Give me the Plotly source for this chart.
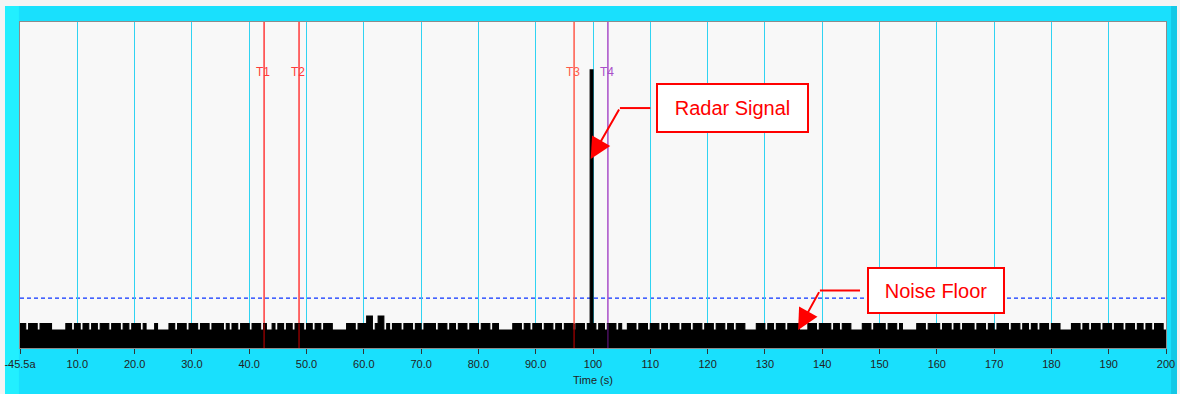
import plotly.graph_objects as go

# ---------------- data ----------------
# noise floor, one char per 0.5 s bin (0 .. 199.5 s)
# '0' = low floor, '1' = regular noise spike, '2' = taller spike, 'R' = radar pulse
noise_chunks = [
    "1101110111" "1000001101" "1011011011" "1011101101" "1101000100",   # 0-25
    "0011011101" "1101110111" "1010110111" "0111010010" "1101101110",   # 25-50
    "1101101110" "0000111011" "1220122010" "1110111011" "0111101110",   # 50-75
    "1101110111" "0111011000" "0011101101" "1101110110" "111011101R",   # 75-100
    "1011011101" "0011101110" "1110110111" "0111011101" "1101110110",   # 100-125
    "1110000111" "0110111011" "1100011101" "1110110111" "0000111011",   # 125-150
    "1101110100" "0001110111" "1011101101" "1110111011" "0111101110",   # 150-175
    "1101101110" "1110000111" "0110111011" "1011101110" "1101101110",   # 175-200
]
noise_code = "".join(noise_chunks)
level_map = {"0": 5.5, "1": 7.5, "2": 9.8, "R": 85.3}
bin_width = 0.5

noise_floor_level = 15.3

marker_names = ["T1", "T2", "T3", "T4"]
marker_times = [42.6, 48.7, 96.7, 102.6]
marker_colors = ["#ff3a3a", "#ff3a3a", "#ff5a4a", "#a94ec8"]
marker_dark = ["#8a0000", "#8a0000", "#8a0000", "#4a1060"]

tick_vals = list(range(0, 201, 10))
tick_text = ["-45.5a", "10.0", "20.0", "30.0", "40.0", "50.0", "60.0", "70.0", "80.0", "90.0",
             "100", "110", "120", "130", "140", "150", "160", "170", "180", "190", "200"]

# ---------------- figure ----------------
xs = [i * bin_width for i in range(len(noise_code))]
ys = [level_map[c] for c in noise_code]
xs.append(len(noise_code) * bin_width)
ys.append(ys[-1])

fig = go.Figure()
fig.add_trace(go.Scatter(
    x=xs, y=ys, mode="lines", line=dict(shape="hv", color="black", width=1.1),
    fill="tozeroy", fillcolor="black", hoverinfo="skip", showlegend=False,
))

shapes = []
# frame decorations (paper coords, behind plot)
frame = [
    (-0.2, -0.01309, -0.3, 1.3, "#f4f4f4"),      # left white edge
    (-0.01309, -0.0009, -0.3, 1.049, "#22efff"),  # bright left stripe
    (1.0044, 1.0096, -0.3, 1.049, "#14c8e6"),     # darker right stripe
    (1.0096, 1.2, -0.3, 1.3, "#f4f4f4"),          # right white edge
    (-0.2, 1.2, 1.049, 1.3, "#f4f4f4"),           # top white edge
]
for x0, x1, y0, y1, c in frame:
    shapes.append(dict(type="rect", xref="paper", yref="paper", x0=x0, x1=x1, y0=y0, y1=y1,
                       fillcolor=c, line=dict(width=0), layer="below"))

# noise floor dashed line
shapes.append(dict(type="line", xref="paper", yref="y", x0=0, x1=1,
                   y0=noise_floor_level, y1=noise_floor_level,
                   line=dict(color="#0a32ff", width=1.2, dash="4px,3px"), layer="between"))

annotations = []
for name, t, c, cd in zip(marker_names, marker_times, marker_colors, marker_dark):
    shapes.append(dict(type="line", xref="x", yref="paper", x0=t, x1=t, y0=0, y1=1,
                       line=dict(color=c, width=1.5), layer="between"))
    shapes.append(dict(type="line", xref="x", yref="y", x0=t, x1=t, y0=0, y1=7.5,
                       line=dict(color=cd, width=1.5), layer="above"))
    annotations.append(dict(x=t, y=84.7, xref="x", yref="y", text=name, showarrow=False,
                            font=dict(size=12, color=c, family="Liberation Sans, Arial"),
                            xanchor="center", yanchor="middle", xshift=-1))

# callouts
red = "#ff0000"
# Radar Signal
shapes.append(dict(type="line", xref="x", yref="y", x0=110.0, x1=104.7, y0=73.6, y1=73.6,
                   line=dict(color=red, width=2), layer="above"))
annotations.append(dict(x=99.6, y=58.0, xref="x", yref="y", ax=104.7, ay=73.6,
                        axref="x", ayref="y", text="", showarrow=True, arrowhead=2,
                        arrowsize=2.1, arrowwidth=2, arrowcolor=red))
annotations.append(dict(x=124.3, y=73.6, xref="x", yref="y", text="Radar Signal",
                        showarrow=False, font=dict(size=20, color=red, family="Liberation Sans, Arial"),
                        bgcolor="white", bordercolor=red, borderwidth=2, borderpad=0,
                        width=149, height=46, xanchor="center", yanchor="middle"))
# Noise Floor
shapes.append(dict(type="line", xref="x", yref="y", x0=146.6, x1=139.6, y0=17.6, y1=17.6,
                   line=dict(color=red, width=2), layer="above"))
annotations.append(dict(x=135.8, y=5.5, xref="x", yref="y", ax=139.6, ay=17.6,
                        axref="x", ayref="y", text="", showarrow=True, arrowhead=2,
                        arrowsize=2.1, arrowwidth=2, arrowcolor=red))
annotations.append(dict(x=159.9, y=17.6, xref="x", yref="y", text="Noise Floor",
                        showarrow=False, font=dict(size=20, color=red, family="Liberation Sans, Arial"),
                        bgcolor="white", bordercolor=red, borderwidth=2, borderpad=0,
                        width=134, height=43, xanchor="center", yanchor="middle"))

fig.update_layout(
    width=1180, height=394,
    margin=dict(l=20, r=14, t=22, b=46, autoexpand=False),
    paper_bgcolor="#19e0fd",
    plot_bgcolor="#f8f8f8",
    font=dict(family="Liberation Sans, Arial", size=11, color="#222222"),
    showlegend=False,
    shapes=shapes,
    annotations=annotations,
    xaxis=dict(
        range=[0, 200], tickmode="array", tickvals=tick_vals, ticktext=tick_text,
        showgrid=True, gridcolor="#2fd3f2", gridwidth=1, zeroline=False,
        showline=True, linecolor="#8c8c8c", linewidth=1, mirror=True,
        ticks="outside", ticklen=5, tickcolor="#333333", ticklabelstandoff=1,
        automargin=False,
        tickfont=dict(size=11, color="#222222"),
        title=dict(text="Time (s)", font=dict(size=11, color="#222222"), standoff=7),
    ),
    yaxis=dict(
        range=[0, 100], showgrid=False, zeroline=False, showticklabels=False, ticks="",
        showline=True, linecolor="#8c8c8c", linewidth=1, mirror=True, automargin=False,
    ),
)

fig.write_html("out.html")
